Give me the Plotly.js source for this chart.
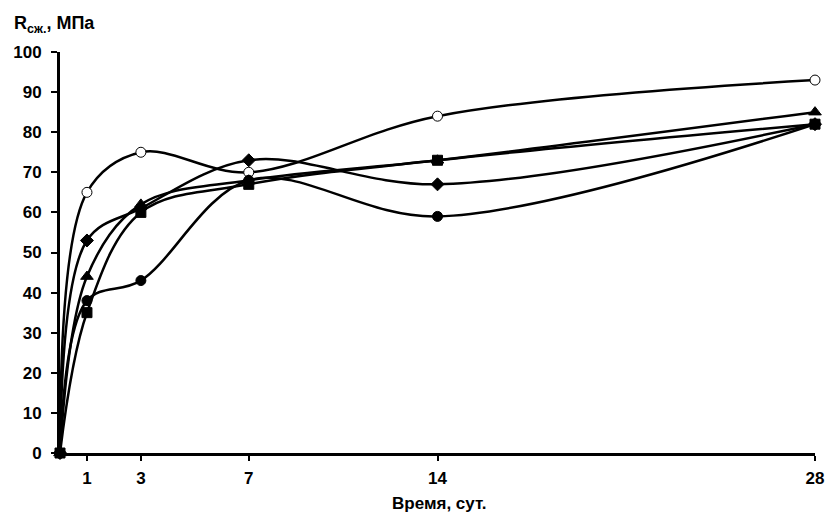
<!DOCTYPE html>
<html><head><meta charset="utf-8">
<script src="https://cdn.plot.ly/plotly-3.0.1.min.js"></script>
<style>body{margin:0;padding:0;background:#fff}#c{width:827px;height:513px}</style>
</head><body><div id="c"></div>
<script>
const days = [0, 1, 3, 7, 14, 28];
const tickVals = [1, 3, 7, 14, 28];
const tickText = ['1', '3', '7', '14', '28'];
const seriesOpenCircle = [0, 65, 75, 70, 84, 93];
const seriesDiamond = [0, 53, 61, 73, 67, 82];
const seriesTriangle = [0, 44, 62, 68, 73, 85];
const seriesSquare = [0, 35, 60, 67, 73, 82];
const seriesCircle = [0, 38, 43, 68, 59, 82];

const F = 'Liberation Sans, Arial, sans-serif';
function tr(y, sym, fill, size) {
  return {x: days, y: y, mode: 'lines+markers', type: 'scatter', cliponaxis: false,
    line: {color: '#000', width: 2.5, shape: 'spline', smoothing: 1},
    marker: {symbol: sym, size: size, color: fill, line: {color: '#000', width: 1}}};
}
const data = [
  tr(seriesOpenCircle, 'circle', '#fff', 10),
  tr(seriesCircle, 'circle', '#000', 10),
  tr(seriesDiamond, 'diamond', '#000', 10),
  tr(seriesTriangle, 'triangle-up', '#000', 11),
  tr(seriesSquare, 'square', '#000', 10)
];
const layout = {
  width: 827, height: 513, showlegend: false,
  margin: {l: 60, r: 12, t: 52, b: 60},
  paper_bgcolor: '#fff', plot_bgcolor: '#fff',
  font: {family: F, size: 17, color: '#000', weight: 'bold'},
  xaxis: {range: [0, 28], tickvals: tickVals, ticktext: tickText, showgrid: false, zeroline: false,
    showline: true, linecolor: '#000', linewidth: 3, ticks: 'outside', ticklen: 5, tickwidth: 2, tickcolor: '#000',
    ticklabelstandoff: 3,
    tickfont: {family: F, size: 17, weight: 'bold'}},
  yaxis: {range: [0, 100], dtick: 10, showgrid: false, zeroline: false,
    showline: true, linecolor: '#000', linewidth: 3, ticks: 'outside', ticklen: 6, tickwidth: 2, tickcolor: '#000',
    ticklabelstandoff: 6,
    tickfont: {family: F, size: 17, weight: 'bold'}},
  annotations: [
    {text: '<b>R<sub>сж.</sub>, МПа</b>', xref: 'paper', yref: 'paper', x: -0.064, y: 1.068,
      xanchor: 'left', yanchor: 'middle', showarrow: false, font: {family: F, size: 18, color: '#000'}},
    {text: '<b>Время, сут.</b>', xref: 'paper', yref: 'paper', x: 0.503, y: -0.127,
      xanchor: 'center', yanchor: 'middle', showarrow: false, font: {family: F, size: 17, color: '#000'}}
  ]
};
Plotly.newPlot('c', data, layout, {displayModeBar: false, staticPlot: true});
</script></body></html>
